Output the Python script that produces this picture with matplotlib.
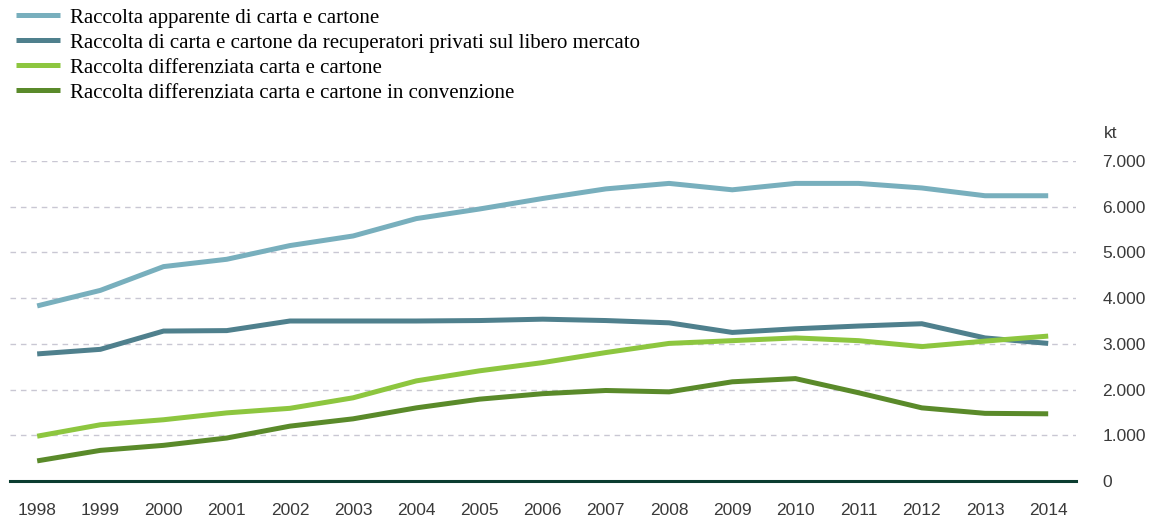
"""
Raccolta di carta e cartone in Italia, 1998-2014 (kt).
"""

import matplotlib.pyplot as plt
from matplotlib.ticker import FixedLocator

years = list(range(1998, 2015))

raccolta_apparente = [3830, 4170, 4690, 4850, 5150, 5360, 5740, 5950, 6180,
                      6390, 6510, 6370, 6510, 6510, 6410, 6240, 6240]
recuperatori_privati = [2780, 2880, 3280, 3290, 3500, 3500, 3500, 3510, 3540,
                        3510, 3460, 3250, 3330, 3390, 3440, 3130, 3010]
differenziata = [980, 1230, 1340, 1490, 1590, 1820, 2190, 2410, 2590,
                 2810, 3010, 3070, 3130, 3070, 2940, 3060, 3170]
differenziata_convenzione = [440, 670, 780, 940, 1200, 1360, 1600, 1790, 1910,
                             1980, 1950, 2170, 2240, 1930, 1600, 1480, 1470]

labels = [
    "Raccolta apparente di carta e cartone",
    "Raccolta di carta e cartone da recuperatori privati sul libero mercato",
    "Raccolta differenziata carta e cartone",
    "Raccolta differenziata carta e cartone in convenzione",
]
colors = ["#78afbd", "#4f808d", "#8dc63f", "#5a8a2a"]
y_ticks = [0, 1000, 2000, 3000, 4000, 5000, 6000, 7000]
y_tick_labels = ["0", "1.000", "2.000", "3.000", "4.000", "5.000", "6.000", "7.000"]

fig = plt.figure(figsize=(11.52, 5.16), dpi=100)
ax = fig.add_axes([10 / 1152, 35 / 516, 1066 / 1152, 320 / 516])

series = [raccolta_apparente, recuperatori_privati, differenziata, differenziata_convenzione]
for values, color, label in zip(series, colors, labels):
    ax.plot(years, values, color=color, linewidth=3.6, label=label,
            solid_capstyle="butt", solid_joinstyle="miter")

ax.set_xlim(1997.57, 2014.44)
ax.set_ylim(0, 7000)

# dashed grid lines
for v in y_ticks[1:]:
    ax.axhline(v, color="#c9c7d3", linewidth=1.0, linestyle=(0, (4, 3.5)), zorder=0)
ax.axhline(0, color="#0b3d30", linewidth=2.2, zorder=3, clip_on=False)

for side in ["top", "right", "left", "bottom"]:
    ax.spines[side].set_visible(False)

ax.yaxis.tick_right()
ax.yaxis.set_major_locator(FixedLocator(y_ticks))
ax.set_yticklabels(y_tick_labels)
ax.tick_params(axis="y", length=0, pad=19, labelsize=12.5, labelcolor="#3a3a3a")
ax.set_xticks(years)
ax.set_xticklabels([str(y) for y in years])
ax.tick_params(axis="x", length=0, pad=16, labelsize=12.5, labelcolor="#3a3a3a")
for lbl in ax.get_xticklabels() + ax.get_yticklabels():
    lbl.set_family("Liberation Sans")

ax.text(1104 / 1152, (516 - 133) / 516, "kt", transform=fig.transFigure,
        fontsize=12.5, color="#3a3a3a", family="Liberation Sans", va="center", ha="left")

fig.legend(loc="upper left", bbox_to_anchor=(12 / 1152, 1 - 4 / 516), frameon=False,
           prop={"family": "Liberation Serif", "size": 15}, handlelength=2.1,
           handletextpad=0.5, labelspacing=0.26, borderaxespad=0, borderpad=0.2)

fig.savefig("out.png", dpi=100)
